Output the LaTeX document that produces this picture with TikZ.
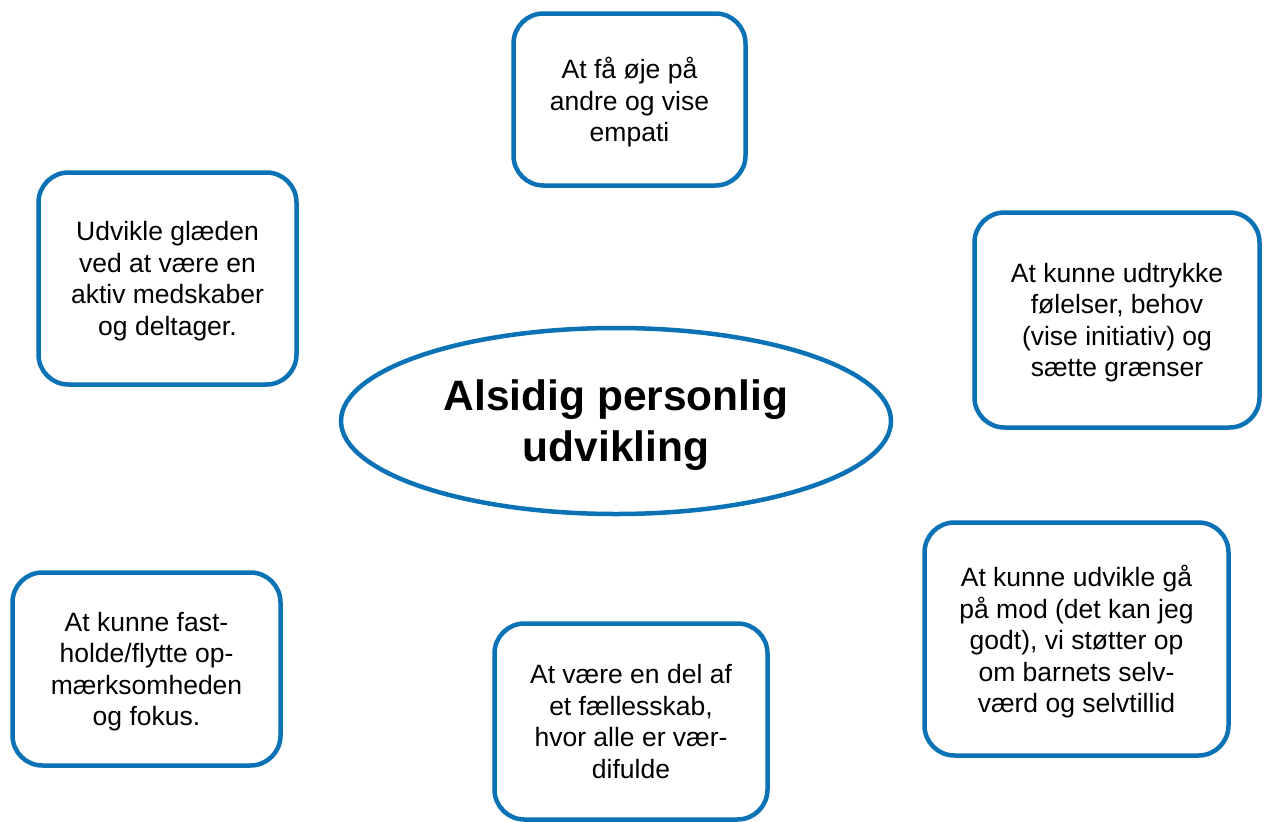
\documentclass[tikz,border=0pt]{standalone}
\usepackage{fontspec}
\setmainfont{Liberation Sans}
\usepackage{xcolor}
\definecolor{cMain}{HTML}{0B72B5}
\usepackage{tikz}
\usetikzlibrary{shapes.geometric}
\tikzset{
  node-goal/.style 2 args={draw=cMain,line width=4.5pt,rounded corners=30pt,
    minimum width=#1,minimum height=#2,align=center,inner sep=0pt,
    text depth=-6pt,font=\fontsize{26.5}{31.5}\selectfont},
  node-core/.style={draw=cMain,line width=4.5pt,ellipse,
    minimum width=550pt,minimum height=186pt,align=center,inner sep=0pt,
    text depth=-1pt,font=\bfseries\fontsize{42.5}{51}\selectfont},
}
\begin{document}
\begin{tikzpicture}[x=1pt,y=-1pt]
  \useasboundingbox (0,0) rectangle (1264,822);
  \node[node-core] (core) at (616,421) {Alsidig personlig\\udvikling};
  \node[node-goal={232pt}{172pt}] (empathy) at (629.5,99.5)
    {At få øje på\\andre og vise\\empati};
  \node[node-goal={258pt}{212pt}] (joy) at (167.5,278.5)
    {Udvikle glæden\\ved at være en\\aktiv medskaber\\og deltager.};
  \node[node-goal={285pt}{215pt}] (express) at (1117,320)
    {At kunne udtrykke\\følelser, behov\\(vise initiativ) og\\sætte grænser};
  \node[node-goal={268pt}{193pt}] (focus) at (146.5,669)
    {At kunne fast-\\holde/flytte op-\\mærksomheden\\og fokus.};
  \node[node-goal={273pt}{196pt},text depth=-14pt] (community) at (631,721.5)
    {At være en del af\\et fællesskab,\\hvor alle er vær-\\difulde};
  \node[node-goal={304pt}{233pt}] (courage) at (1076.5,639)
    {At kunne udvikle gå\\på mod (det kan jeg\\godt), vi støtter op\\om barnets selv-\\værd og selvtillid};
\end{tikzpicture}
\end{document}
